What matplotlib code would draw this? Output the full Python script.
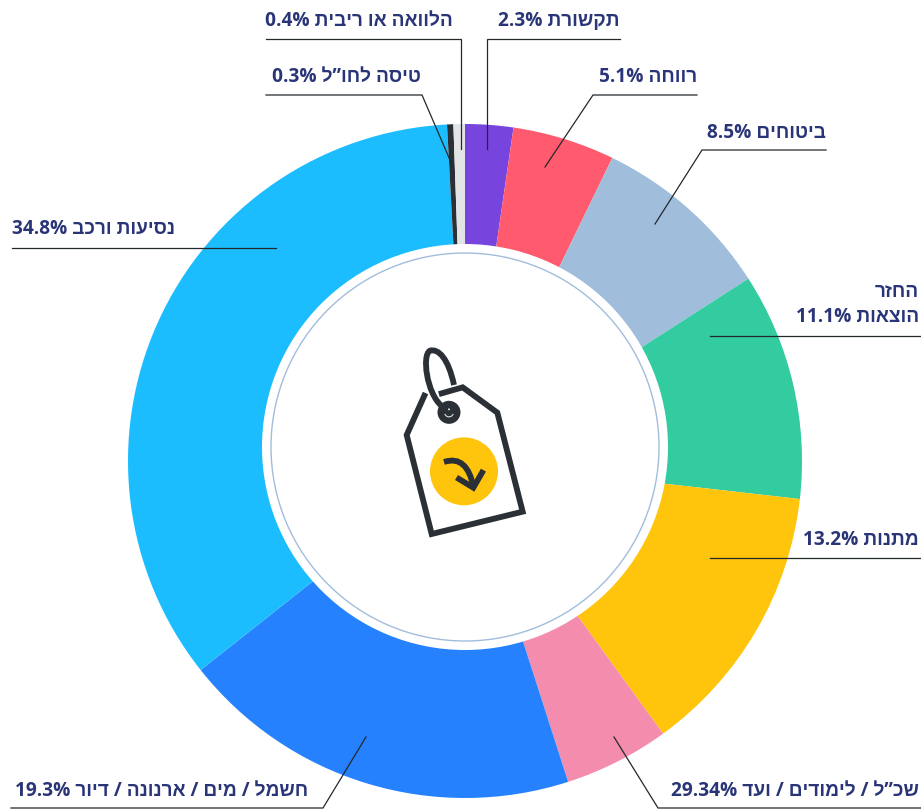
import matplotlib
matplotlib.use('Agg')
import matplotlib.pyplot as plt
from matplotlib.patches import Arc, Circle, PathPatch
from matplotlib.path import Path

# slices clockwise from the top
names = ['תקשורת', 'רווחה', 'ביטוחים', 'הוצאות', 'מתנות', 'שכ”ל / לימודים / ועד',
         'חשמל / מים / ארנונה / דיור', 'נסיעות ורכב', 'טיסה לחו”ל', 'הלוואה או ריבית']
label_pcts = ['2.3%', '5.1%', '8.5%', '11.1%', '13.2%', '29.34%', '19.3%', '34.8%', '0.3%', '0.4%']
# as drawn (not quite the printed labels)
values = [2.3, 4.9, 8.7, 10.9, 13.2, 5.05, 19.3, 34.8, 0.3, 0.55]
colors = ['#7744dd', '#ff5a6e', '#a1bddc', '#33cba0', '#ffc40c', '#f48cad',
          '#2681ff', '#1cbdff', '#2a3035', '#e2e4e6']

TEXT = '#2a3578'
DARK = '#2a3035'
FONT = ['Open Sans', 'Liberation Sans']


def Y(y):
    return 809 - y


def visual(name, pct=None):
    # matplotlib has no bidi, so hebrew goes in reversed
    s = name[::-1]
    if pct:
        s = pct + ' ' + s
    return s


fig = plt.figure(figsize=(9.21, 8.09), dpi=100)
ax = fig.add_axes([0, 0, 1, 1])
ax.set_xlim(0, 921)
ax.set_ylim(0, 809)
ax.axis('off')

ax.pie(values, colors=colors, center=(465, Y(461)), radius=337, startangle=90,
       counterclock=False, wedgeprops=dict(linewidth=0), frame=False)
ax.set_xlim(0, 921)
ax.set_ylim(0, 809)
ax.set_aspect('auto')

# the hole sits higher than the centre of the ring
ax.add_patch(Circle((465, Y(447)), 203, fc='white', ec='none', zorder=3))
ax.add_patch(Circle((465, Y(447)), 194, fc='white', ec='#a1bddc', lw=1, zorder=3))

# leader lines
leaders = [
    [(620, 39), (487, 39), (487, 149)],
    [(697, 95), (593, 95), (545, 167)],
    [(826, 150), (702, 150), (655, 224)],
    [(921, 336), (710, 336)],
    [(921, 558), (710, 558)],
    [(921, 808), (658, 808), (614, 737)],
    [(11, 808), (323, 808), (366, 737)],
    [(12, 248), (276, 248)],
    [(266, 95), (422, 95), (453, 167)],
    [(266, 39), (461, 39), (461, 149)],
]
for pts in leaders:
    ax.plot([p[0] for p in pts], [Y(p[1]) for p in pts], color='#23282c', lw=0.9, zorder=4,
            solid_joinstyle='miter')

# labels
label_pos = [(619, 21), (697, 77), (826, 133), (919, 317), (919, 540), (919, 791),
             (308, 791), (175, 229), (421, 77), (453, 21)]
for name, pct, (x, y) in zip(names, label_pcts, label_pos):
    ax.text(x, Y(y), visual(name, pct), ha='right', va='center', color=TEXT, fontsize=13.8,
            fontweight='bold', family=FONT, zorder=5)
ax.text(919, Y(292), visual('החזר'), ha='right', va='center', color=TEXT, fontsize=13.8,
        fontweight='bold', family=FONT, zorder=5)


# icon, given in pixels of the 3x crop
def icon(x, y):
    return (380 + x / 3, Y(330 + y / 3))


tag = [(133, 197), (80, 315), (155, 612), (428, 545), (352, 248), (248, 172), (185, 190)]
ax.plot(*zip(*[icon(*p) for p in tag]), color=DARK, lw=4.2, zorder=6, solid_joinstyle='miter')

loop = [(222, 165), (205, 85), (175, 55), (150, 62), (125, 75), (140, 190), (185, 228)]
loop_path = Path([icon(*p) for p in loop],
                 [Path.MOVETO, Path.CURVE4, Path.CURVE4, Path.CURVE4, Path.CURVE4, Path.CURVE4, Path.CURVE4])
ax.add_patch(PathPatch(loop_path, fc='none', ec=DARK, lw=4.2, zorder=6))

ax.add_patch(Circle(icon(207, 247), 11.5, fc=DARK, ec='none', zorder=7))
ax.add_patch(Arc(icon(207, 247), 9, 9, theta1=200, theta2=340, ec='#dddddd', lw=0.8, zorder=8))
ax.add_patch(Circle(icon(207, 238), 1, fc='#dddddd', ec='none', zorder=8))
ax.add_patch(Circle(icon(252, 424), 34, fc='#ffc40c', ec='none', zorder=6))

arrow = Path([icon(192, 396), icon(240, 380), icon(268, 410), icon(280, 470)],
             [Path.MOVETO, Path.CURVE4, Path.CURVE4, Path.CURVE4])
ax.add_patch(PathPatch(arrow, fc='none', ec=DARK, lw=4.2, zorder=7))
ax.plot(*zip(*[icon(*p) for p in [(237, 447), (280, 473), (306, 428)]]), color=DARK, lw=4.2,
        zorder=7, solid_joinstyle='miter')

fig.savefig('out.png', dpi=100)
